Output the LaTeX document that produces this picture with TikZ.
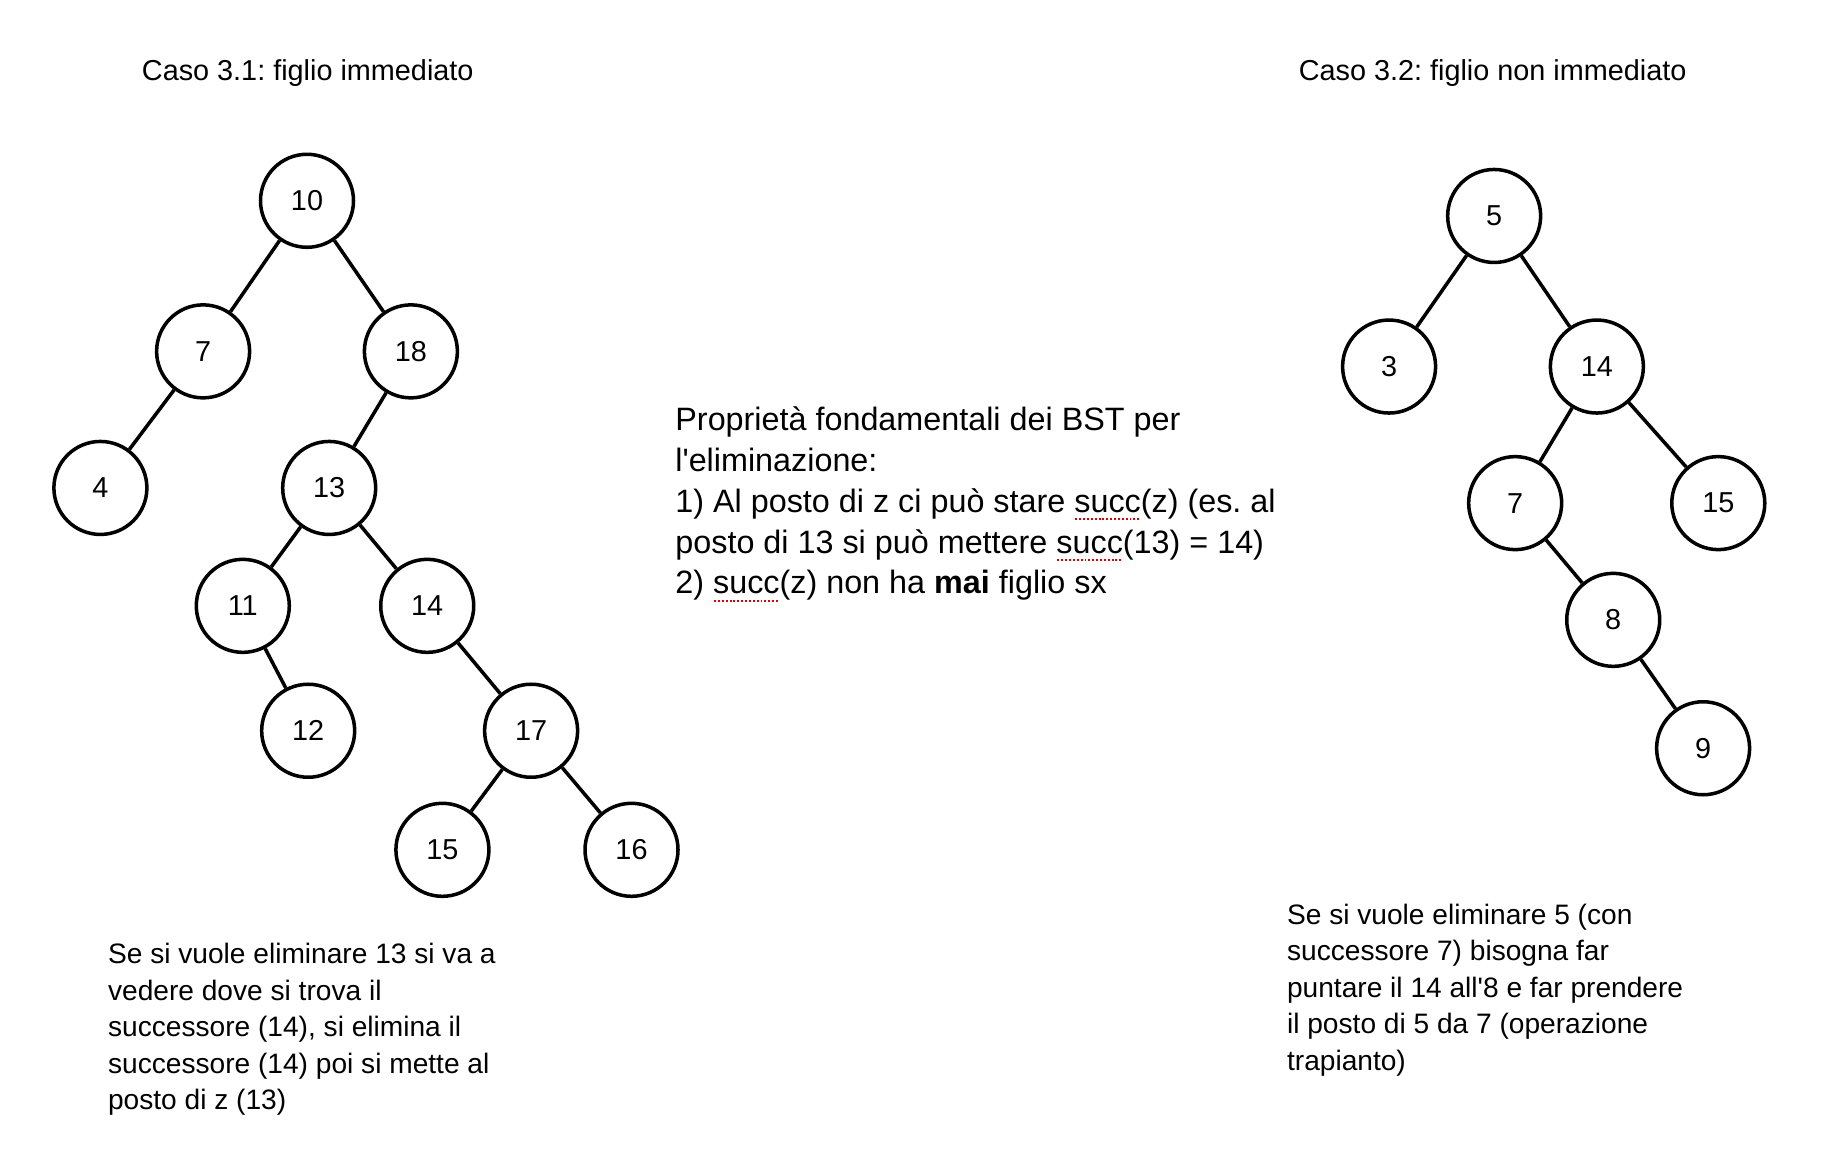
\documentclass[tikz,border=0pt]{standalone}
\usepackage{fontspec}
\setmainfont{Liberation Sans}
\frenchspacing
\newcommand\spellerr[1]{\setbox0\hbox{#1}\rlap{\color{red!85!black}\raisebox{-2.2pt}{\hbox to \wd0{\leaders\hbox to 1.1pt{\hss\rule{0.55pt}{0.55pt}\hss}\hfill}}}\box0}
\begin{document}
\begin{tikzpicture}[x=0.01167cm,y=-0.01167cm,
  bstnode/.style={draw,circle,line width=1pt,minimum size=0.93cm,inner sep=0pt,font=\fontsize{8.2}{10}\selectfont},
  note/.style={anchor=west,inner sep=0pt,align=left}]
\useasboundingbox (0,0) rectangle (1566,997);
% titles
\node[note,font=\fontsize{8.2}{10}\selectfont] (title1) at (121,63) {Caso 3.1: figlio immediato};
\node[note,font=\fontsize{8.2}{10}\selectfont] (title2) at (1112,63) {Caso 3.2: figlio non immediato};
% left tree
\node[bstnode] (l10) at (263,172) {10};
\node[bstnode] (l7) at (174,301) {7};
\node[bstnode] (l18) at (352,301) {18};
\node[bstnode] (l4) at (86,418) {4};
\node[bstnode] (l13) at (282,418) {13};
\node[bstnode] (l11) at (208,519) {11};
\node[bstnode] (l14) at (366,519) {14};
\node[bstnode] (l12) at (264,626) {12};
\node[bstnode] (l17) at (455,626) {17};
\node[bstnode] (l15) at (379,728) {15};
\node[bstnode] (l16) at (541,728) {16};
\draw[line width=1pt] (l10)--(l7);
\draw[line width=1pt] (l10)--(l18);
\draw[line width=1pt] (l7)--(l4);
\draw[line width=1pt] (l18)--(l13);
\draw[line width=1pt] (l13)--(l11);
\draw[line width=1pt] (l13)--(l14);
\draw[line width=1pt] (l11)--(l12);
\draw[line width=1pt] (l14)--(l17);
\draw[line width=1pt] (l17)--(l15);
\draw[line width=1pt] (l17)--(l16);
% right tree
\node[bstnode] (r5) at (1280,185) {5};
\node[bstnode] (r3) at (1190,314) {3};
\node[bstnode] (r14) at (1368,314) {14};
\node[bstnode] (r7) at (1298,431) {7};
\node[bstnode] (r15) at (1472,431) {15};
\node[bstnode] (r8) at (1382,531) {8};
\node[bstnode] (r9) at (1459,641) {9};
\draw[line width=1pt] (r5)--(r3);
\draw[line width=1pt] (r5)--(r14);
\draw[line width=1pt] (r14)--(r7);
\draw[line width=1pt] (r14)--(r15);
\draw[line width=1pt] (r7)--(r8);
\draw[line width=1pt] (r8)--(r9);
% notes
\node[note,font=\fontsize{9.2}{11.6}\selectfont] (props) at (578,432) {Proprietà fondamentali dei BST per\\
l\textquotesingle eliminazione:\\
1) Al posto di z ci può stare \spellerr{succ}(z) (es. al\\
posto di 13 si può mettere \spellerr{succ}(13) = 14)\\
2) \spellerr{succ}(z) non ha \textbf{mai} figlio sx};
\node[note,font=\fontsize{8}{10.4}\selectfont] (caso1) at (92,882) {Se si vuole eliminare 13 si va a\\
vedere dove si trova il\\
successore (14), si elimina il\\
successore (14) poi si mette al\\
posto di z (13)};
\node[note,font=\fontsize{8}{10.4}\selectfont] (caso2) at (1102,848) {Se si vuole eliminare 5 (con\\
successore 7) bisogna far\\
puntare il 14 all\textquotesingle 8 e far prendere\\
il posto di 5 da 7 (operazione\\
trapianto)};
\end{tikzpicture}
\end{document}
